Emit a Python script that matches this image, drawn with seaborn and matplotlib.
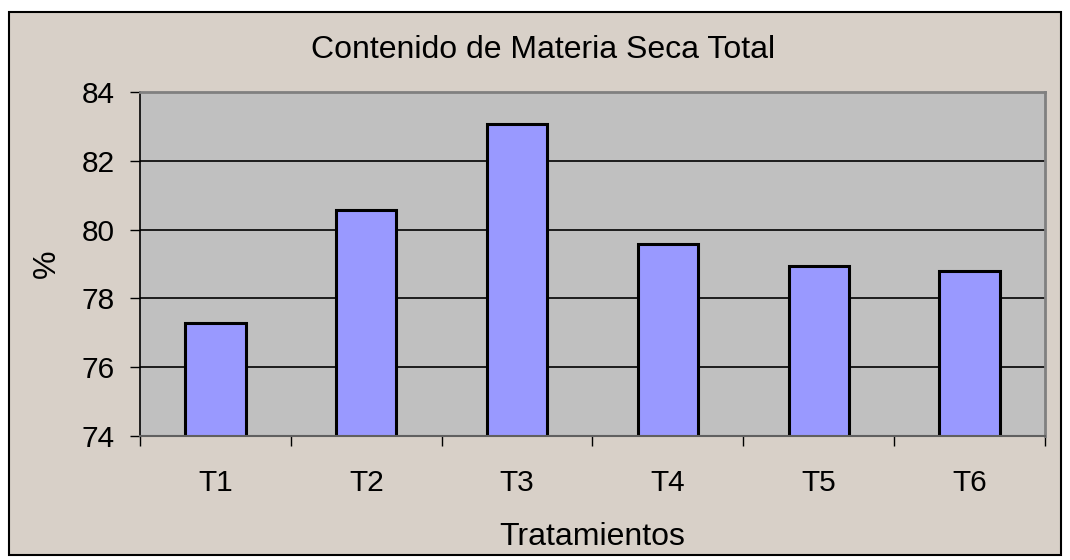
"""
Contenido de Materia Seca Total por tratamiento.
"""

import matplotlib.pyplot as plt
import seaborn as sns
from matplotlib.patches import Rectangle

TREATMENTS = ["T1", "T2", "T3", "T4", "T5", "T6"]
DRY_MATTER = [77.28, 80.57, 83.07, 79.59, 78.94, 78.80]
Y_TICKS = [74, 76, 78, 80, 82, 84]

BG = "#D8D0C8"
PLOT_BG = "#C0C0C0"
BAR = "#9999FF"


def main() -> None:
    sns.set_theme(style="white")
    plt.rcParams["font.family"] = ["Liberation Sans", "DejaVu Sans"]
    plt.rcParams.update({
        "text.color": "black",
        "axes.labelcolor": "black",
        "xtick.color": "black",
        "ytick.color": "black",
    })

    fig = plt.figure(figsize=(10.7, 5.6), dpi=100, facecolor="white")
    # chart area frame, drawn under the axes
    fig.patches.append(
        Rectangle((9 / 1070, 1 - 555 / 560), 1052 / 1070, 543 / 560,
                  transform=fig.transFigure, facecolor=BG, edgecolor="black",
                  linewidth=1.5, zorder=-10)
    )
    ax = fig.add_axes([140 / 1070, 1 - 436 / 560, 905 / 1070, 344 / 560])
    ax.set_facecolor(PLOT_BG)

    for y in Y_TICKS[1:-1]:
        ax.axhline(y, color="black", linewidth=1.2, zorder=1)

    sns.barplot(x=TREATMENTS, y=DRY_MATTER, color=BAR, edgecolor="black",
                linewidth=2.2, width=0.4, saturation=1, ax=ax, zorder=2)

    ax.set_ylim(74, 84)
    ax.set_xlim(-0.5, len(TREATMENTS) - 0.5)
    ax.set_yticks(Y_TICKS)
    ax.set_yticklabels([str(v) for v in Y_TICKS])
    ax.tick_params(axis="y", which="major", direction="out", length=7,
                   width=1, color="black", pad=11, labelsize=21.5, left=True)
    ax.set_xticks(range(len(TREATMENTS)))
    ax.set_xticklabels(TREATMENTS)
    ax.tick_params(axis="x", which="major", length=0, pad=24, labelsize=21.5)
    ax.set_xticks([i - 0.5 for i in range(len(TREATMENTS) + 1)], minor=True)
    ax.tick_params(axis="x", which="minor", direction="out", length=7,
                   width=1, color="black", bottom=True)

    for side in ["top", "right"]:
        ax.spines[side].set_color("#808080")
        ax.spines[side].set_linewidth(2)
    ax.spines["left"].set_color("black")
    ax.spines["left"].set_linewidth(1.2)
    ax.spines["bottom"].set_color("#606060")
    ax.spines["bottom"].set_linewidth(1.5)

    fig.text(543 / 1070, 1 - 58 / 560, "Contenido de Materia Seca Total",
             fontsize=23, ha="center", va="baseline")
    ax.set_xlabel("Tratamientos", fontsize=23, labelpad=18)
    ax.set_ylabel("%", fontsize=23, labelpad=14)

    fig.savefig("out.png", dpi=100, facecolor=fig.get_facecolor())
    plt.close(fig)


if __name__ == "__main__":
    main()
